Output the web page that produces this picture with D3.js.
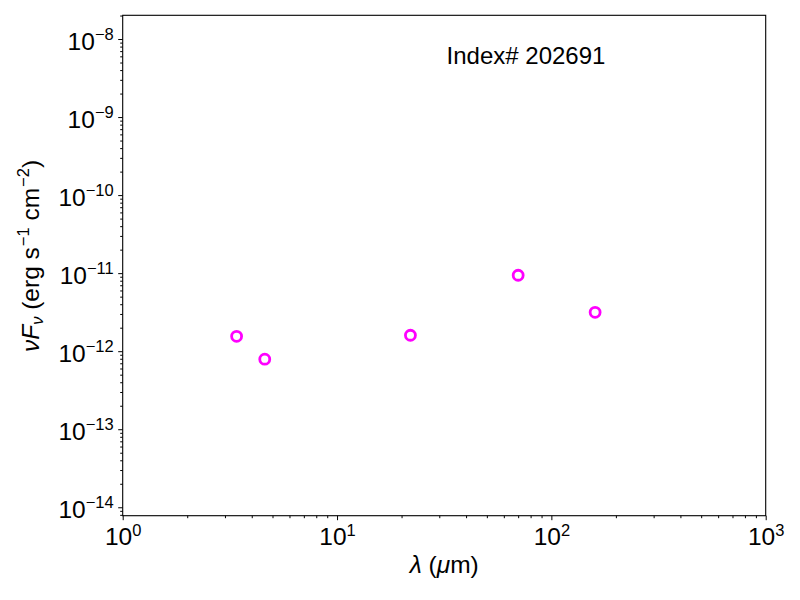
<!DOCTYPE html>
<html>
<head>
<meta charset="utf-8">
<script src="https://cdn.jsdelivr.net/npm/d3@7"></script>
<style>
  body { margin: 0; background: #fff; }
  svg text { font-family: "Liberation Sans", Arial, sans-serif; fill: #000; }
</style>
</head>
<body>
<div id="chart"></div>
<script>
// SED points (wavelength in micron, nuFnu in erg/s/cm2)
var wavelengths = [3.4, 4.6, 22, 70, 160];
var fluxes = [1.55e-12, 7.9e-13, 1.6e-12, 9.4e-12, 3.15e-12];
var xMajor = [1, 10, 100, 1000];
var xExponents = ["0", "1", "2", "3"];
var yMajor = [1e-14, 1e-13, 1e-12, 1e-11, 1e-10, 1e-9, 1e-8];
var yExponents = ["\u221214", "\u221213", "\u221212", "\u221211", "\u221210", "\u22129", "\u22128"];
var title = "Index# 202691";

function main(){
    var canvasWidth = 800;
    var canvasHeight = 600;
    var left = 122.7, top = 15.3, right = 765.7, bottom = 515.7;

    var svg = d3.select("#chart").append("svg")
        .attr("width", canvasWidth)
        .attr("height", canvasHeight);

    var xScale = d3.scaleLog().domain([1, 1000]).range([left, right]);
    var yScale = d3.scaleLog().domain([Math.pow(10, -14.108), Math.pow(10, -7.696)]).range([bottom, top]);

    // minor ticks
    var xMinor = xScale.ticks().filter(function(d){ return xMajor.indexOf(d) < 0; });
    var yMinor = [];
    d3.range(-15, -7).forEach(function(e){
        for (var m = 2; m < 10; m++) {
            var v = m * Math.pow(10, e);
            if (v >= yScale.domain()[0] && v <= yScale.domain()[1]) yMinor.push(v);
        }
    });

    var gx = svg.append("g").attr("transform", "translate(0," + bottom + ")");
    gx.call(d3.axisBottom(xScale).tickValues(xMinor).tickSize(2.5).tickFormat(""));
    var gxMaj = svg.append("g").attr("transform", "translate(0," + bottom + ")")
        .call(d3.axisBottom(xScale).tickValues(xMajor).tickSize(4.5).tickFormat(""));
    gxMaj.selectAll(".tick").each(function(d, i){
        var t = d3.select(this).append("text")
            .attr("y", 29.8)
            .attr("text-anchor", "middle")
            .attr("font-size", "24.5px");
        t.append("tspan").text("10");
        t.append("tspan").attr("dy", -9).attr("font-size", "16.5px").text(xExponents[i]);
    });

    var gy = svg.append("g").attr("transform", "translate(" + left + ",0)");
    gy.call(d3.axisLeft(yScale).tickValues(yMinor).tickSize(2.5).tickFormat(""));
    var gyMaj = svg.append("g").attr("transform", "translate(" + left + ",0)")
        .call(d3.axisLeft(yScale).tickValues(yMajor).tickSize(4.5).tickFormat(""));
    gyMaj.selectAll(".tick").each(function(d, i){
        var t = d3.select(this).append("text")
            .attr("x", -9)
            .attr("y", 10.3)
            .attr("text-anchor", "end")
            .attr("font-size", "24.5px");
        t.append("tspan").text("10");
        t.append("tspan").attr("dy", -10).attr("font-size", "16.5px").text(yExponents[i]);
    });

    svg.selectAll(".domain").remove();
    svg.selectAll(".tick line").attr("stroke", "#000").attr("stroke-width", 1);

    // frame
    svg.append("rect")
        .attr("x", left).attr("y", top)
        .attr("width", right - left).attr("height", bottom - top)
        .attr("fill", "none").attr("stroke", "#000").attr("stroke-width", 1.1);

    // points
    svg.selectAll(".pt")
        .data(wavelengths)
        .enter().append("circle")
        .attr("class", "pt")
        .attr("cx", function(d){ return xScale(d); })
        .attr("cy", function(d, i){ return yScale(fluxes[i]); })
        .attr("r", 5)
        .attr("fill", "none")
        .attr("stroke", "#ff00ff")
        .attr("stroke-width", 2.8);

    // title inside axes
    svg.append("text")
        .attr("x", 526)
        .attr("y", 64.3)
        .attr("text-anchor", "middle")
        .attr("font-size", "24px")
        .text(title);

    // x label
    var xl = svg.append("text")
        .attr("x", (left + right) / 2)
        .attr("y", 573)
        .attr("text-anchor", "middle")
        .attr("font-size", "24.5px");
    xl.append("tspan").attr("font-style", "italic").text("\u03bb");
    xl.append("tspan").text(" (");
    xl.append("tspan").attr("font-style", "italic").text("\u03bc");
    xl.append("tspan").text("m)");

    // y label
    var yl = svg.append("text")
        .attr("transform", "translate(39,256) rotate(-90)")
        .attr("text-anchor", "middle")
        .attr("font-size", "24.5px");
    yl.append("tspan").attr("font-style", "italic").text("\u03bdF");
    yl.append("tspan").attr("font-style", "italic").attr("font-size", "16.5px").attr("dy", 4).text("\u03bd");
    yl.append("tspan").attr("dy", -4).text(" (erg s");
    yl.append("tspan").attr("font-size", "16.5px").attr("dy", -10).attr("dx", 1).text("\u22121");
    yl.append("tspan").attr("dy", 10).text(" cm");
    yl.append("tspan").attr("font-size", "16.5px").attr("dy", -10).attr("dx", 1).text("\u22122");
    yl.append("tspan").attr("dy", 10).text(")");
}
main();
</script>
</body>
</html>
